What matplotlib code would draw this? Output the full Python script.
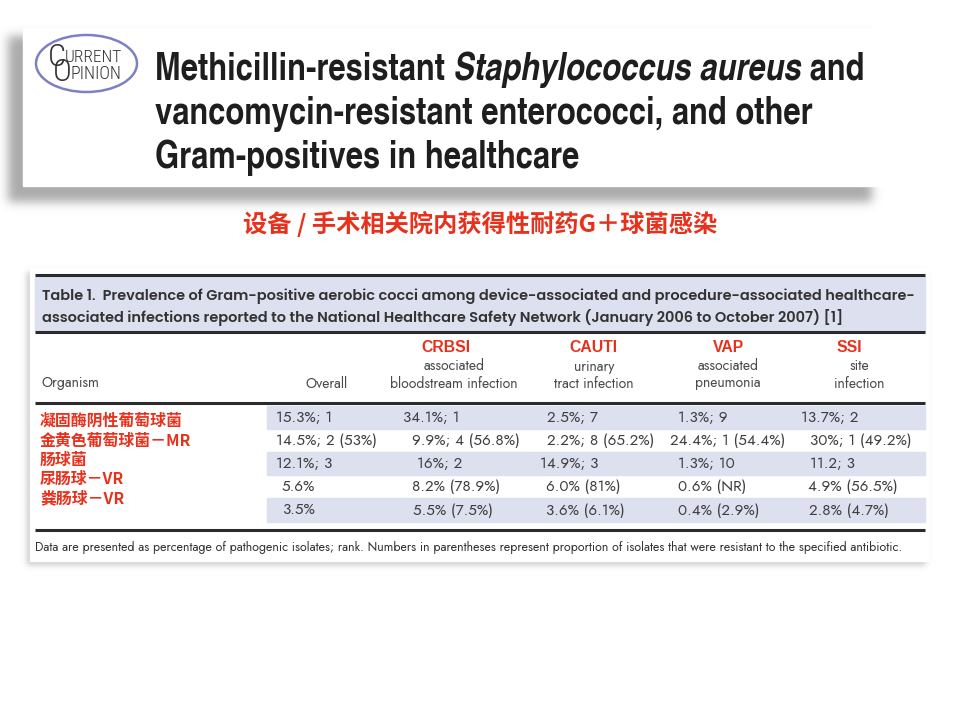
import numpy as np
import matplotlib
matplotlib.use('Agg')
import matplotlib.pyplot as plt
from matplotlib.patches import Rectangle, Ellipse

plt.rcParams['font.family'] = ['Noto Sans CJK SC', 'DejaVu Sans']

# ---- texts / data
title_head = 'Methicillin-resistant '
title_italic = 'Staphylococcus aureus'
title_tail = ' and'
title_line2 = 'vancomycin-resistant enterococci, and other'
title_line3 = 'Gram-positives in healthcare'
subtitle = '设备 / 手术相关院内获得性耐药G＋球菌感染'

table_title = ['Table 1.  Prevalence of Gram-positive aerobic cocci among device-associated and procedure-associated healthcare-',
               'associated infections reported to the National Healthcare Safety Network (January 2006 to October 2007) [1]']
infections = ['CRBSI', 'CAUTI', 'VAP', 'SSI']
infection_desc1 = ['associated', 'urinary', 'associated', 'site']
infection_desc2 = ['bloodstream infection', 'tract infection', 'pneumonia', 'infection']
organisms = ['凝固酶阴性葡萄球菌', '金黄色葡萄球菌－MR', '肠球菌', '尿肠球－VR', '粪肠球－VR']

overall = ['15.3%; 1', '14.5%; 2 (53%)', '12.1%; 3', '5.6%', '3.5%']
crbsi = ['34.1%; 1', '9.9%; 4 (56.8%)', '16%; 2', '8.2% (78.9%)', '5.5% (7.5%)']
cauti = ['2.5%; 7', '2.2%; 8 (65.2%)', '14.9%; 3', '6.0% (81%)', '3.6% (6.1%)']
vap = ['1.3%; 9', '24.4%; 1 (54.4%)', '1.3%; 10', '0.6% (NR)', '0.4% (2.9%)']
ssi = ['13.7%; 2', '30%; 1 (49.2%)', '11.2; 3', '4.9% (56.5%)', '2.8% (4.7%)']
columns = [overall, crbsi, cauti, vap, ssi]

footnote = ('Data are presented as percentage of pathogenic isolates; rank. Numbers in parentheses '
            'represent proportion of isolates that were resistant to the specified antibiotic.')

# ---- layout (pixels)
cell_x = [[276, 276, 276, 282, 282],
          [403, 412, 417, 412, 413],
          [547, 547, 540, 546, 546],
          [678, 670, 678, 678, 678],
          [801, 810, 810, 808, 809]]
row_edges = [406, 429, 452, 475, 498, 522]
org_y = [421, 441, 460, 479, 498]
inf_x = [446, 593, 728, 849]
desc_x = [454, 594, 728, 859]

LAV = '#dde0ef'
RED = '#e8311c'
INK = '#404040'
W, H = 960, 720
COND = ['TeX Gyre Heros Cn', 'DejaVu Sans']
GEO = ['Jost', 'DejaVu Sans']
GEO_BOLD = ['Poppins', 'TeX Gyre Adventor', 'DejaVu Sans']

fig = plt.figure(figsize=(9.6, 7.2), dpi=100)
ax = fig.add_axes([0, 0, 1, 1])
fig.canvas.draw()
r = fig.canvas.get_renderer()


def width(t):
    return t.get_window_extent(renderer=r).width


def fit(t, w):
    t.set_fontsize(t.get_fontsize() * w / width(t))
    return t.get_fontsize()


def shadow(x0, y0, x1, y1, sigma, alpha, grey=0.4):
    m = np.zeros((H, W))
    m[y0:y1, x0:x1] = 1.0
    k = np.exp(-0.5 * (np.arange(-3 * sigma, 3 * sigma + 1) / sigma) ** 2)
    k /= k.sum()
    m = np.apply_along_axis(lambda v: np.convolve(v, k, mode='same'), 0, m)
    m = np.apply_along_axis(lambda v: np.convolve(v, k, mode='same'), 1, m)
    img = np.zeros((H, W, 4))
    img[..., :3] = grey
    img[..., 3] = m * alpha
    ax.imshow(img, extent=(0, W, H, 0), zorder=0, interpolation='bilinear')


# ---- header block
shadow(8, 36, 872, 202, 5, 0.55)
ax.add_patch(Rectangle((23, 28), 880, 158, color='white', zorder=1))

ax.add_patch(Ellipse((86.5, 63.5), 101, 57, fill=False, ec='#7d80c2', lw=1.8, zorder=2))
thin = ['Roboto Condensed', 'DejaVu Sans']
ax.text(57, 57.5, 'C', fontsize=23, family=thin, weight='light', color='#333', ha='center', va='center', zorder=3)
u = ax.text(65, 57.5, 'URRENT', fontsize=11, family=thin, weight='light', color='#333', va='center', zorder=3)
fit(u, 57)
ax.text(62, 72.5, 'O', fontsize=23, family=thin, weight='light', color='#333', ha='center', va='center', zorder=3)
p = ax.text(71, 74, 'PINION', fontsize=11, family=thin, weight='light', color='#333', va='center', zorder=3)
fit(p, 51)

tkw = dict(family=COND, weight='bold', color='#1e1e1e', va='baseline', zorder=3, fontsize=28)
parts = [ax.text(155, 80, title_head, **tkw),
         ax.text(155, 80, title_italic, style='italic', **tkw),
         ax.text(155, 80, title_tail, **tkw)]
total = sum(width(t) for t in parts)
fs = 28 * 710 / total
x = 155
for t in parts:
    t.set_fontsize(fs)
    t.set_x(x)
    x += width(t)
ax.text(155, 124, title_line2, **dict(tkw, fontsize=fs))
ax.text(155, 168, title_line3, **dict(tkw, fontsize=fs))

st = ax.text(480, 224, subtitle, fontsize=16, weight='bold', color=RED, ha='center', va='center', zorder=3)
fit(st, 475)

# ---- table panel
shadow(27, 272, 926, 565, 3, 0.35)
ax.add_patch(Rectangle((30, 268), 898, 293, color='white', zorder=1))
ax.add_patch(Rectangle((35, 277), 890, 54, color=LAV, zorder=2))
for y in [275, 332, 403, 530]:
    ax.plot([35, 925], [y, y], color='#2b2b2b', lw=2.2, solid_capstyle='butt', zorder=4)

t0 = ax.text(42, 296, table_title[0], family=GEO_BOLD, weight='semibold', color='#333', va='center', fontsize=10, zorder=3)
tfs = fit(t0, 878)
ax.text(42, 318, table_title[1], family=GEO_BOLD, weight='semibold', color='#333', va='center', fontsize=tfs, zorder=3)

hkw = dict(family=GEO, color='#4a4a4a', va='center', zorder=3)
d = ax.text(desc_x[0], 383, infection_desc2[0], ha='center', fontsize=10, **hkw)
hfs = fit(d, 128)
ax.text(42, 383, 'Organism', fontsize=hfs, **hkw)
ax.text(348, 383, 'Overall', ha='right', fontsize=hfs, **hkw)
for i, name in enumerate(infections):
    ax.text(inf_x[i], 348, name, family=['Liberation Sans', 'DejaVu Sans'], weight='bold', color=RED,
            fontsize=11.3, ha='center', va='center', zorder=3)
    ax.text(desc_x[i], 366, infection_desc1[i], ha='center', fontsize=hfs, **hkw)
    if i > 0:
        ax.text(desc_x[i], 383, infection_desc2[i], ha='center', fontsize=hfs, **hkw)

# rows
for j in range(len(organisms)):
    if j % 2 == 0:
        ax.add_patch(Rectangle((267, row_edges[j]), 658, row_edges[j + 1] - row_edges[j], color=LAV, zorder=2))
probe = ax.text(0, 0, overall[1], family=GEO, fontsize=10)
dfs = fit(probe, 101)
probe.remove()
for c, col in enumerate(columns):
    for j, val in enumerate(col):
        ax.text(cell_x[c][j], (row_edges[j] + row_edges[j + 1]) / 2, val, family=GEO, fontsize=dfs,
                color=INK, va='center', zorder=3)

o0 = ax.text(40, org_y[0], organisms[0], weight='bold', color=RED, fontsize=11, va='center', zorder=3)
ofs = fit(o0, 143)
for j in range(1, len(organisms)):
    ax.text(40, org_y[j], organisms[j], weight='bold', color=RED, fontsize=ofs, va='center', zorder=3)

fn = ax.text(35, 548, footnote, family=GEO, color='#333', fontsize=8, va='center', zorder=3)
fit(fn, 870)

ax.set_xlim(0, W)
ax.set_ylim(H, 0)
ax.set_aspect('auto')
ax.axis('off')
fig.savefig('out.png', dpi=100, facecolor='white')
